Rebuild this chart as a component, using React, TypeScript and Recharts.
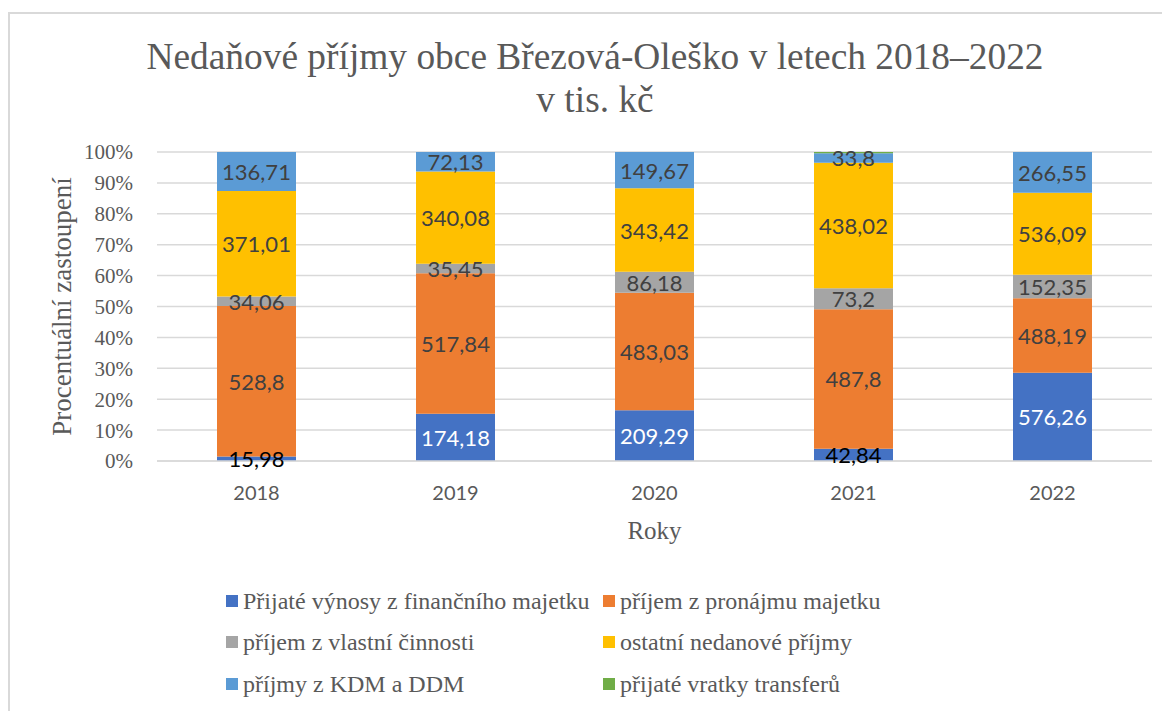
import { Bar, BarChart, CartesianGrid, LabelList, XAxis, YAxis } from 'recharts';

const years = ['2018', '2019', '2020', '2021', '2022'];
const financniMajetek = [15.98, 174.18, 209.29, 42.84, 576.26];
const pronajem = [528.8, 517.84, 483.03, 487.8, 488.19];
const vlastniCinnost = [34.06, 35.45, 86.18, 73.2, 152.35];
const ostatni = [371.01, 340.08, 343.42, 438.02, 536.09];
const kdmDdm = [136.71, 72.13, 149.67, 33.8, 266.55];
const vratky = [0, 0, 0, 4, 0];
const yTicks = [0, 0.1, 0.2, 0.3, 0.4, 0.5, 0.6, 0.7, 0.8, 0.9, 1];

const SERIF = '"Liberation Serif", "Times New Roman", serif';
const SANS = 'Lato, "Open Sans", sans-serif';
const GRAY = '#595959';

const series = [
  { key: 'fin', name: 'Přijaté výnosy z finančního majetku', color: '#4472C4', values: financniMajetek, labels: ['#000000', '#ffffff', '#ffffff', '#000000', '#ffffff'] },
  { key: 'pron', name: 'příjem z pronájmu majetku', color: '#ED7D31', values: pronajem, labels: null },
  { key: 'vlast', name: 'příjem z vlastní činnosti', color: '#A5A5A5', values: vlastniCinnost, labels: null },
  { key: 'ost', name: 'ostatní nedanové příjmy', color: '#FFC000', values: ostatni, labels: null },
  { key: 'kdm', name: 'příjmy z KDM a DDM', color: '#5B9BD5', values: kdmDdm, labels: null },
  { key: 'vrat', name: 'přijaté vratky transferů', color: '#70AD47', values: vratky, labels: null, noLabel: true },
];

const data = years.map((year, i) => {
  const row: Record<string, string | number> = { year };
  series.forEach((s) => {
    row[s.key] = s.values[i];
  });
  return row;
});

const makeLabel = (values: number[], colors: string[] | null) => (props: any) => {
  const { x, y, width, height, index } = props;
  const v = values[index];
  if (!v) return null;
  return (
    <text
      x={Number(x) + Number(width) / 2}
      y={Number(y) + Number(height) / 2}
      textAnchor="middle"
      dominantBaseline="central"
      fill={colors ? colors[index] : '#404040'}
      fontFamily={SANS}
      fontSize={22}
    >
      {String(v).replace('.', ',')}
    </text>
  );
};

// legend is laid out by hand in two columns, like the Excel original
const legendPos = [
  { x: 218, y: 593 },
  { x: 595, y: 593 },
  { x: 218, y: 634 },
  { x: 595, y: 634 },
  { x: 218, y: 676 },
  { x: 595, y: 676 },
];

export default function App() {
  return (
    <div style={{ position: 'relative', width: 1162, height: 703, overflow: 'hidden', background: '#fff' }}>
      <div
        style={{
          position: 'absolute',
          left: 0,
          top: 4,
          width: 1180,
          height: 760,
          border: '2px solid #d9d9d9',
          boxSizing: 'border-box',
        }}
      />
      <div
        style={{
          position: 'absolute',
          left: 0,
          top: 27,
          width: 1174,
          textAlign: 'center',
          fontFamily: SERIF,
          fontSize: 37.4,
          lineHeight: '43px',
          color: GRAY,
        }}
      >
        Nedaňové příjmy obce Březová-Oleško v letech 2018–2022
        <br />v tis. kč
      </div>
      <div style={{ position: 'absolute', left: 0, top: 0 }}>
        <BarChart
          width={1162}
          height={703}
          data={data}
          stackOffset="expand"
          margin={{ top: 144, right: 18, left: 0, bottom: 190 }}
        >
          <CartesianGrid vertical={false} stroke="#d9d9d9" strokeWidth={1.5} />
          <XAxis
            dataKey="year"
            axisLine={{ stroke: '#d9d9d9', strokeWidth: 1.5 }}
            tickLine={false}
            tickSize={0}
            tickMargin={25}
            height={60}
            tick={{ fontFamily: SANS, fontSize: 20, fill: GRAY }}
            label={{
              content: (p: any) => {
                const vb = p.viewBox;
                return (
                  <text
                    x={vb.x + vb.width / 2}
                    y={vb.y + 69}
                    textAnchor="middle"
                    dominantBaseline="central"
                    fontFamily={SERIF}
                    fontSize={25}
                    fill={GRAY}
                  >
                    Roky
                  </text>
                );
              },
            }}
          />
          <YAxis
            width={149}
            domain={[0, 1]}
            ticks={yTicks}
            axisLine={false}
            tickLine={false}
            tickSize={0}
            tickMargin={24}
            tickFormatter={(v: number) => `${Math.round(v * 100)}%`}
            tick={{ fontFamily: SERIF, fontSize: 21, fill: GRAY }}
            label={{
              content: (p: any) => {
                const vb = p.viewBox;
                const cx = 54;
                const cy = vb.y + vb.height / 2;
                return (
                  <text
                    x={cx}
                    y={cy}
                    transform={`rotate(-90, ${cx}, ${cy})`}
                    textAnchor="middle"
                    dominantBaseline="central"
                    fontFamily={SERIF}
                    fontSize={27}
                    fill={GRAY}
                  >
                    Procentuální zastoupení
                  </text>
                );
              },
            }}
          />
          {series.map((s) => (
            <Bar
              key={s.key}
              dataKey={s.key}
              name={s.name}
              stackId="a"
              fill={s.color}
              barSize={79}
              isAnimationActive={false}
            >
              {!s.noLabel && <LabelList dataKey={s.key} content={makeLabel(s.values, s.labels)} />}
            </Bar>
          ))}
        </BarChart>
      </div>
      {series.map((s, i) => (
        <div
          key={s.key}
          style={{
            position: 'absolute',
            left: legendPos[i].x,
            top: legendPos[i].y - 14,
            height: 28,
            display: 'flex',
            alignItems: 'center',
            fontFamily: SERIF,
            fontSize: 24,
            color: GRAY,
            whiteSpace: 'nowrap',
          }}
        >
          <span style={{ display: 'inline-block', width: 12, height: 12, background: s.color, marginRight: 5 }} />
          {s.name}
        </div>
      ))}
    </div>
  );
}
